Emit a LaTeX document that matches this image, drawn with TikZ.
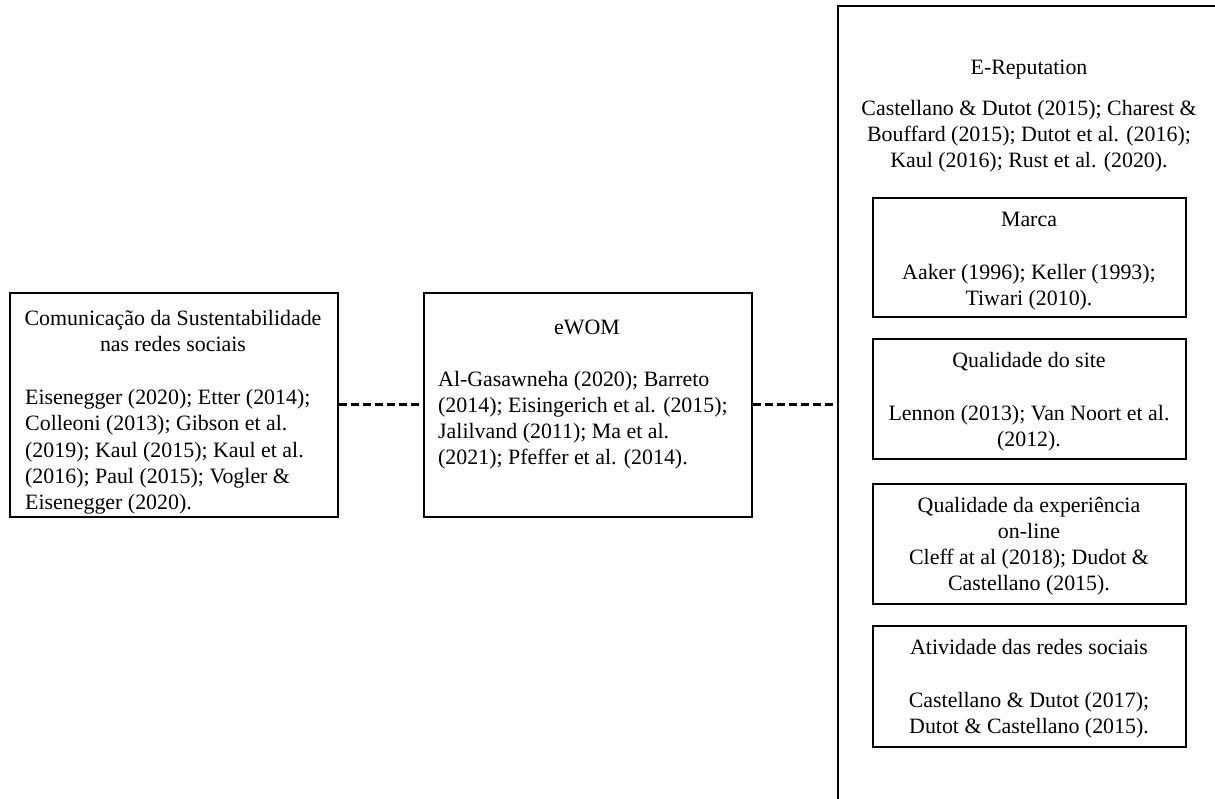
\documentclass[tikz,border=0pt]{standalone}
\usepackage{fontspec}
\setmainfont{Liberation Serif}
\tikzset{
  box/.style={draw, line width=1.8pt, inner sep=0pt, anchor=north west},
  txt/.style={inner sep=0pt, font=\fontsize{21.9}{26.3}\selectfont},
  ctxt/.style={txt, align=center, anchor=base},
  ltxt/.style={txt, align=left, anchor=base west},
  link/.style={line width=3pt, dash pattern=on 8pt off 4pt}
}
\begin{document}
\begin{tikzpicture}[x=1pt,y=-1pt]
\useasboundingbox (0,0) rectangle (1215,798);
\clip (0,0) rectangle (1215,798);
% boxes
\node[box, minimum width=328pt, minimum height=224pt] (left) at (9,292) {};
\node[box, minimum width=328pt, minimum height=224pt] (mid) at (423,292) {};
\node[box, minimum width=500pt, minimum height=798pt] (erep) at (837,5) {};
\node[box, minimum width=313pt, minimum height=119pt] (marca) at (872,197) {};
\node[box, minimum width=313pt, minimum height=120pt] (site) at (872,338) {};
\node[box, minimum width=313pt, minimum height=120pt] (exp) at (872,483) {};
\node[box, minimum width=313pt, minimum height=121pt] (ativ) at (872,625) {};
% texts (base anchor = baseline of the last line)
\node[ctxt] (lefttitle) at (173,351.8) {Comunicação da Sustentabilidade\\nas redes sociais};
\node[ltxt] (leftcit) at (25,509.6) {Eisenegger (2020); Etter (2014);\\Colleoni (2013); Gibson et al.\\(2019); Kaul (2015); Kaul et al.\\(2016); Paul (2015); Vogler \&\\Eisenegger (2020).};
\node[ctxt] (midtitle) at (587,334) {eWOM};
\node[ltxt] (midcit) at (438,464.9) {Al-Gasawneha (2020); Barreto\\(2014); Eisingerich et al. (2015);\\Jalilvand (2011); Ma et al.\\(2021); Pfeffer et al. (2014).};
\node[ctxt] (ereptitle) at (1029,74) {E-Reputation};
\node[ctxt] (erepcit) at (1029,167.6) {Castellano \& Dutot (2015); Charest \&\\Bouffard (2015); Dutot et al. (2016);\\Kaul (2016); Rust et al. (2020).};
\node[ctxt] (marcatitle) at (1029,226) {Marca};
\node[ctxt] (marcacit) at (1029,305.3) {Aaker (1996); Keller (1993);\\Tiwari (2010).};
\node[ctxt] (sitetitle) at (1029,367) {Qualidade do site};
\node[ctxt] (sitecit) at (1029,446.3) {Lennon (2013); Van Noort et al.\\(2012).};
\node[ctxt] (exptext) at (1029,590.9) {Qualidade da experiência\\on-line\\Cleff at al (2018); Dudot \&\\Castellano (2015).};
\node[ctxt] (ativtitle) at (1029,654) {Atividade das redes sociais};
\node[ctxt] (ativcit) at (1029,733.3) {Castellano \& Dutot (2017);\\Dutot \& Castellano (2015).};
% connectors
\draw[link] (left) -- (mid);
\draw[link] (mid) -- (erep);
\end{tikzpicture}
\end{document}
